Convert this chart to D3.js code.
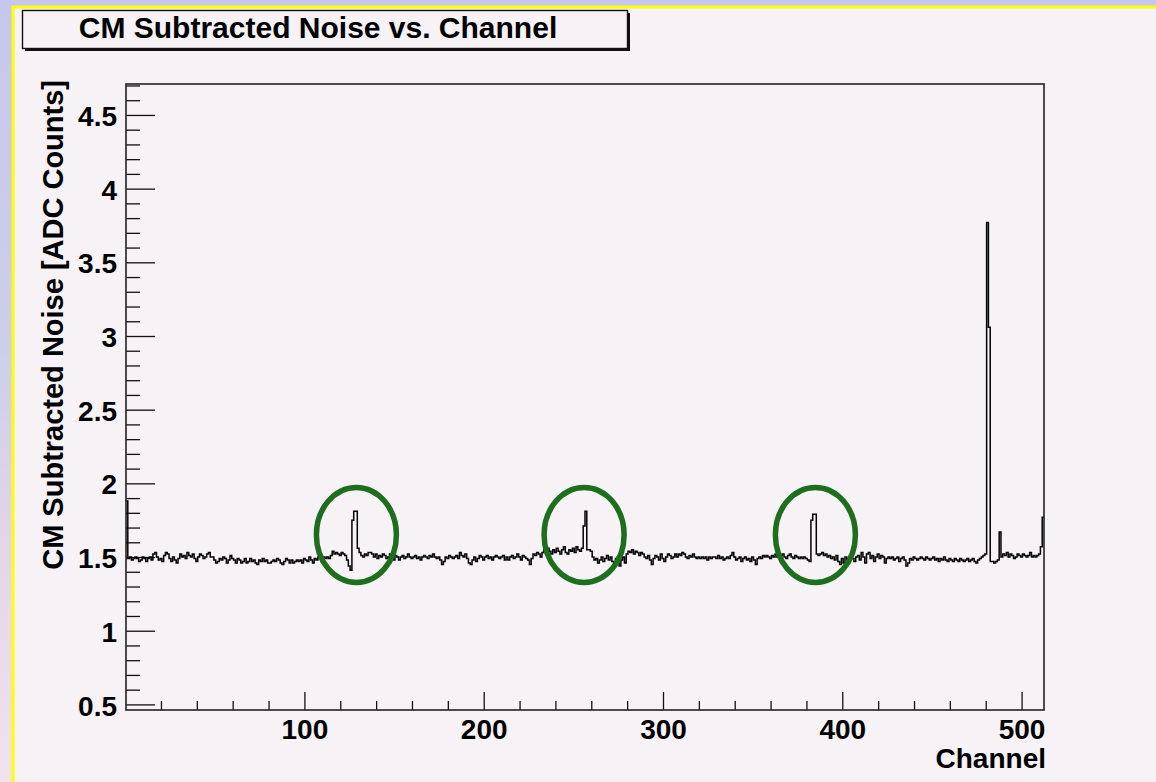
<!DOCTYPE html>
<html>
<head>
<meta charset="utf-8">
<script src="https://cdn.jsdelivr.net/npm/d3@7"></script>
<style>
  body { margin: 0; padding: 0; overflow: hidden; }
  svg text { font-family: "Liberation Sans", Arial, Helvetica, sans-serif; font-weight: bold; fill: #000; }
</style>
</head>
<body>
<div id="viz"></div>
<script type="text/javascript">

var title = "CM Subtracted Noise vs. Channel";
var xTitle = "Channel";
var yTitle = "CM Subtracted Noise [ADC Counts]";

// 512 channels
var noise = [
  1.88, 1.49, 1.50, 1.48, 1.49, 1.50, 1.49, 1.47, 1.48, 1.50, 1.49, 1.47, 1.49, 1.50, 1.48, 1.52,
  1.53, 1.50, 1.48, 1.49, 1.47, 1.51, 1.53, 1.52, 1.49, 1.47, 1.50, 1.48, 1.46, 1.49, 1.52, 1.50,
  1.51, 1.49, 1.53, 1.51, 1.50, 1.52, 1.49, 1.47, 1.50, 1.52, 1.51, 1.49, 1.50, 1.52, 1.53, 1.50,
  1.50, 1.48, 1.46, 1.47, 1.49, 1.48, 1.50, 1.49, 1.46, 1.48, 1.51, 1.49, 1.48, 1.46, 1.49, 1.48,
  1.46, 1.47, 1.49, 1.46, 1.47, 1.49, 1.47, 1.48, 1.46, 1.45, 1.48, 1.47, 1.49, 1.47, 1.48, 1.46,
  1.46, 1.47, 1.48, 1.47, 1.49, 1.48, 1.46, 1.45, 1.47, 1.49, 1.48, 1.46, 1.48, 1.46, 1.47, 1.48,
  1.47, 1.48, 1.46, 1.49, 1.48, 1.47, 1.50, 1.48, 1.46, 1.49, 1.48, 1.50, 1.49, 1.47, 1.50, 1.49,
  1.50, 1.49, 1.51, 1.54, 1.52, 1.53, 1.52, 1.51, 1.53, 1.52, 1.51, 1.48, 1.44, 1.41, 1.75, 1.81,
  1.81, 1.56, 1.53, 1.51, 1.50, 1.52, 1.51, 1.53, 1.53, 1.52, 1.50, 1.52, 1.49, 1.51, 1.50, 1.52,
  1.51, 1.49, 1.50, 1.52, 1.50, 1.48, 1.51, 1.50, 1.48, 1.50, 1.51, 1.49, 1.50, 1.52, 1.50, 1.49,
  1.50, 1.51, 1.49, 1.50, 1.48, 1.50, 1.51, 1.50, 1.49, 1.51, 1.50, 1.52, 1.50, 1.49, 1.50, 1.48,
  1.45, 1.47, 1.50, 1.49, 1.51, 1.50, 1.49, 1.50, 1.51, 1.49, 1.53, 1.51, 1.50, 1.52, 1.49, 1.46,
  1.45, 1.48, 1.50, 1.47, 1.49, 1.51, 1.50, 1.48, 1.50, 1.51, 1.49, 1.50, 1.48, 1.50, 1.51, 1.50,
  1.49, 1.50, 1.51, 1.48, 1.50, 1.48, 1.50, 1.51, 1.49, 1.50, 1.52, 1.50, 1.48, 1.51, 1.50, 1.49,
  1.48, 1.45, 1.49, 1.52, 1.51, 1.53, 1.52, 1.50, 1.53, 1.55, 1.53, 1.56, 1.54, 1.52, 1.55, 1.53,
  1.56, 1.54, 1.52, 1.55, 1.57, 1.53, 1.52, 1.55, 1.54, 1.56, 1.53, 1.57, 1.55, 1.54, 1.56, 1.71,
  1.81, 1.55, 1.55, 1.54, 1.50, 1.48, 1.49, 1.46, 1.48, 1.50, 1.47, 1.49, 1.51, 1.48, 1.50, 1.47,
  1.43, 1.49, 1.50, 1.44, 1.48, 1.50, 1.46, 1.52, 1.54, 1.53, 1.55, 1.52, 1.54, 1.53, 1.51, 1.53,
  1.52, 1.50, 1.49, 1.51, 1.48, 1.45, 1.49, 1.51, 1.50, 1.48, 1.52, 1.49, 1.47, 1.50, 1.52, 1.51,
  1.49, 1.50, 1.52, 1.50, 1.52, 1.51, 1.53, 1.52, 1.50, 1.49, 1.51, 1.50, 1.52, 1.50, 1.49, 1.50,
  1.49, 1.50, 1.49, 1.50, 1.48, 1.50, 1.49, 1.50, 1.50, 1.49, 1.51, 1.49, 1.50, 1.48, 1.49, 1.50,
  1.49, 1.51, 1.53, 1.50, 1.48, 1.49, 1.50, 1.47, 1.49, 1.50, 1.48, 1.49, 1.47, 1.50, 1.48, 1.45,
  1.49, 1.50, 1.49, 1.51, 1.50, 1.51, 1.50, 1.49, 1.51, 1.50, 1.52, 1.50, 1.49, 1.51, 1.52, 1.50,
  1.49, 1.51, 1.52, 1.50, 1.49, 1.51, 1.50, 1.49, 1.50, 1.49, 1.50, 1.49, 1.48, 1.47, 1.75, 1.79,
  1.79, 1.52, 1.51, 1.52, 1.53, 1.51, 1.52, 1.50, 1.51, 1.49, 1.50, 1.48, 1.51, 1.47, 1.45, 1.49,
  1.46, 1.50, 1.48, 1.49, 1.51, 1.49, 1.47, 1.50, 1.51, 1.48, 1.53, 1.50, 1.46, 1.52, 1.53, 1.49,
  1.51, 1.47, 1.50, 1.52, 1.49, 1.51, 1.50, 1.46, 1.49, 1.50, 1.49, 1.50, 1.48, 1.49, 1.50, 1.47,
  1.49, 1.50, 1.48, 1.44, 1.46, 1.49, 1.48, 1.50, 1.49, 1.48, 1.49, 1.50, 1.49, 1.48, 1.50, 1.49,
  1.48, 1.49, 1.50, 1.48, 1.49, 1.47, 1.49, 1.48, 1.50, 1.48, 1.47, 1.49, 1.48, 1.47, 1.49, 1.48,
  1.47, 1.49, 1.48, 1.47, 1.48, 1.49, 1.47, 1.48, 1.49, 1.47, 1.46, 1.48, 1.49, 1.50, 1.51, 1.52,
  3.77, 3.06, 1.47, 1.47, 1.46, 1.47, 1.48, 1.67, 1.50, 1.52, 1.51, 1.53, 1.50, 1.52, 1.51, 1.49,
  1.50, 1.52, 1.51, 1.50, 1.52, 1.51, 1.50, 1.51, 1.53, 1.50, 1.51, 1.50, 1.51, 1.52, 1.57, 1.77
];

var xMajor = [100, 200, 300, 400, 500];
var yMajor = [0.5, 1, 1.5, 2, 2.5, 3, 3.5, 4, 4.5];

// channels whose bumps are circled on the slide
var circled = [129, 256, 385];

var W = 1156, H = 782;
var frameL = 126, frameR = 1044, frameT = 84, frameB = 710;

var svg = d3.select("#viz").append("svg")
    .attr("width", W)
    .attr("height", H);

// slide background
var defs = svg.append("defs");
var grad = defs.append("linearGradient").attr("id", "bg")
    .attr("x1", 0).attr("y1", 0).attr("x2", 0).attr("y2", 1);
grad.append("stop").attr("offset", "0%").attr("stop-color", "#c6c7ee");
grad.append("stop").attr("offset", "45%").attr("stop-color", "#cdcfe8");
grad.append("stop").attr("offset", "70%").attr("stop-color", "#e2d6ea");
grad.append("stop").attr("offset", "100%").attr("stop-color", "#f3e2ee");

svg.append("rect").attr("width", W).attr("height", H).attr("fill", "url(#bg)");
svg.append("rect").attr("x", 11.5).attr("y", 5.5).attr("width", W).attr("height", H)
    .attr("fill", "#ffff00");
svg.append("rect").attr("x", 14.5).attr("y", 8.5).attr("width", W).attr("height", H)
    .attr("fill", "#f6f2f6");

var x = d3.scaleLinear().domain([0.5, 512.5]).range([frameL, frameR]);
var y = d3.scaleLinear().domain([0.462, 4.71]).range([frameB, frameT]);

// minor ticks
var xMinor = d3.range(20, 513, 20).filter(function(d) { return d % 100 != 0; });
var yMinor = d3.range(5, 48).map(function(d) { return d / 10; })
    .filter(function(d) { return Math.round(d * 10) % 5 != 0; });

svg.append("g")
    .attr("transform", "translate(0," + frameB + ")")
    .call(d3.axisBottom(x).tickValues(xMinor).tickSize(-9).tickFormat(""))
    .call(function(g) { g.select(".domain").remove(); });

svg.append("g")
    .attr("transform", "translate(0," + frameB + ")")
    .call(d3.axisBottom(x).tickValues(xMajor).tickSize(-18).tickPadding(9))
    .call(function(g) { g.select(".domain").remove(); })
    .selectAll("text").attr("font-size", 28).attr("font-family", null);

svg.append("g")
    .attr("transform", "translate(" + frameL + ",0)")
    .call(d3.axisLeft(y).tickValues(yMinor).tickSize(-14).tickFormat(""))
    .call(function(g) { g.select(".domain").remove(); });

svg.append("g")
    .attr("transform", "translate(" + frameL + ",0)")
    .call(d3.axisLeft(y).tickValues(yMajor).tickSize(-29).tickPadding(9)
        .tickFormat(function(d) { return String(d); }))
    .call(function(g) { g.select(".domain").remove(); })
    .selectAll("text").attr("font-size", 28).attr("font-family", null).attr("dy", "0.38em");

svg.selectAll(".tick line").attr("stroke", "#111").attr("stroke-width", 1.3);

// histogram outline
var pts = noise.map(function(v, i) { return [i + 0.5, v]; });
pts.push([512.5, noise[noise.length - 1]]);

var step = d3.line()
    .x(function(d) { return x(d[0]); })
    .y(function(d) { return y(d[1]); })
    .curve(d3.curveStepAfter);

svg.append("path")
    .datum(pts)
    .attr("d", step)
    .attr("fill", "none")
    .attr("stroke", "#000")
    .attr("stroke-width", 1.5);

// frame
svg.append("rect")
    .attr("x", frameL).attr("y", frameT)
    .attr("width", frameR - frameL).attr("height", frameB - frameT)
    .attr("fill", "none").attr("stroke", "#222").attr("stroke-width", 1.6);

// axis titles
svg.append("text")
    .attr("x", 1046).attr("y", 768)
    .attr("text-anchor", "end")
    .attr("font-size", 28)
    .text(xTitle);

svg.append("text")
    .attr("transform", "translate(63,80) rotate(-90)")
    .attr("text-anchor", "end")
    .attr("font-size", 29)
    .text(yTitle);

// title box with shadow
svg.append("rect").attr("x", 25).attr("y", 13).attr("width", 605).attr("height", 38)
    .attr("fill", "#111");
svg.append("rect").attr("x", 22.5).attr("y", 10.5).attr("width", 605).attr("height", 38)
    .attr("fill", "#f6f2f6").attr("stroke", "#111").attr("stroke-width", 1.4);
svg.append("text")
    .attr("x", 318).attr("y", 38)
    .attr("text-anchor", "middle")
    .attr("font-size", 30)
    .text(title);

// green circles
svg.selectAll("ellipse.mark")
    .data(circled)
    .enter().append("ellipse")
    .attr("class", "mark")
    .attr("cx", function(d) { return x(d); })
    .attr("cy", y(1.65))
    .attr("rx", 40)
    .attr("ry", 47.5)
    .attr("fill", "none")
    .attr("stroke", "#1d6e1d")
    .attr("stroke-width", 5.5);

</script>
</body>
</html>
